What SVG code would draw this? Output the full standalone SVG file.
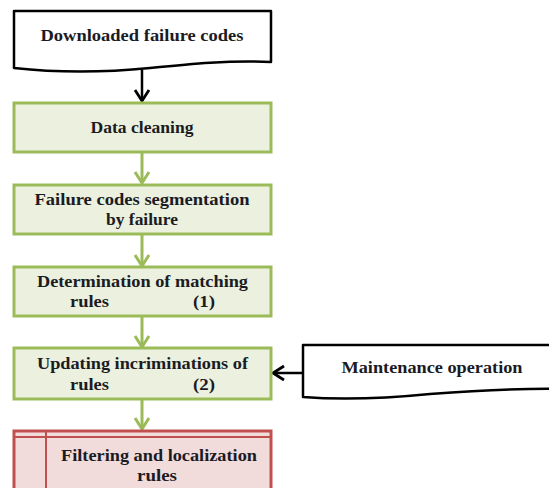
<svg xmlns="http://www.w3.org/2000/svg" width="549" height="488" viewBox="0 0 549 488">
<style>
text{font-family:"Liberation Serif","DejaVu Serif",serif;font-weight:bold;font-size:17px;fill:#1b1b24}
.doc{fill:#ffffff;stroke:#000000;stroke-width:2.5;stroke-linejoin:round}
.step{fill:#ebf1de;stroke:#9bbb59;stroke-width:3}
.fin{fill:#f2dcdb;stroke:#c0504d;stroke-width:3}
.finl{stroke:#c0504d;stroke-width:2;fill:none}
.g{stroke:#9bbb59;stroke-width:3;fill:none}
.k{stroke:#000000;stroke-width:2.5;fill:none}
</style>
<defs>
<marker id="ag" markerUnits="userSpaceOnUse" markerWidth="18" markerHeight="18" refX="14" refY="9" orient="auto" viewBox="0 0 18 18">
<path d="M3,2 L14,9 L3,16" fill="none" stroke="#9bbb59" stroke-width="3"/>
</marker>
<marker id="ak" markerUnits="userSpaceOnUse" markerWidth="18" markerHeight="18" refX="14" refY="9" orient="auto" viewBox="0 0 18 18">
<path d="M3,2 L14,9 L3,16" fill="none" stroke="#000000" stroke-width="2.8"/>
</marker>
</defs>
<g id="connectors">
<line class="k" x1="142" y1="70" x2="142" y2="101" marker-end="url(#ak)"/>
<line class="g" x1="142" y1="152" x2="142" y2="183" marker-end="url(#ag)"/>
<line class="g" x1="142" y1="234" x2="142" y2="266" marker-end="url(#ag)"/>
<line class="g" x1="142" y1="316" x2="142" y2="347" marker-end="url(#ag)"/>
<line class="g" x1="142" y1="399" x2="142" y2="429" marker-end="url(#ag)"/>
<line class="k" x1="303" y1="373" x2="273" y2="373" marker-end="url(#ak)"/>
</g>
<g id="downloaded">
<path class="doc" d="M14,11 H271 V62 C230,60 190,64 150,68 C100,73 50,72 14,68 Z"/>
<text x="142" y="41" text-anchor="middle" textLength="203" lengthAdjust="spacingAndGlyphs">Downloaded failure codes</text>
</g>
<g id="cleaning">
<rect class="step" x="14" y="103" width="257" height="49"/>
<text x="142" y="133" text-anchor="middle" textLength="103" lengthAdjust="spacingAndGlyphs">Data cleaning</text>
</g>
<g id="segmentation">
<rect class="step" x="14" y="185" width="257" height="49"/>
<text x="142" y="205" text-anchor="middle" textLength="215" lengthAdjust="spacingAndGlyphs">Failure codes segmentation</text>
<text x="142" y="225" text-anchor="middle" textLength="72" lengthAdjust="spacingAndGlyphs">by failure</text>
</g>
<g id="matching">
<rect class="step" x="14" y="267" width="257" height="49"/>
<text x="37" y="287" textLength="211" lengthAdjust="spacingAndGlyphs">Determination of matching</text>
<text x="70" y="307" textLength="39" lengthAdjust="spacingAndGlyphs">rules</text>
<text x="193" y="307" textLength="22" lengthAdjust="spacingAndGlyphs">(1)</text>
</g>
<g id="updating">
<rect class="step" x="14" y="348" width="257" height="51"/>
<text x="37" y="369" textLength="211" lengthAdjust="spacingAndGlyphs">Updating incriminations of</text>
<text x="70" y="390" textLength="39" lengthAdjust="spacingAndGlyphs">rules</text>
<text x="193" y="390" textLength="22" lengthAdjust="spacingAndGlyphs">(2)</text>
</g>
<g id="maintenance">
<path class="doc" d="M303,345 H565 V389 C520,388 470,391 430,394 C380,399 340,400 303,397 Z"/>
<text x="432" y="373" text-anchor="middle" textLength="181" lengthAdjust="spacingAndGlyphs">Maintenance operation</text>
</g>
<g id="filtering">
<rect class="fin" x="14" y="431" width="257" height="70"/>
<line class="finl" x1="14" y1="437" x2="271" y2="437"/>
<line class="finl" x1="46" y1="431" x2="46" y2="500"/>
<text x="159" y="461" text-anchor="middle" textLength="196" lengthAdjust="spacingAndGlyphs">Filtering and localization</text>
<text x="157" y="481" text-anchor="middle" textLength="40" lengthAdjust="spacingAndGlyphs">rules</text>
</g>
</svg>
